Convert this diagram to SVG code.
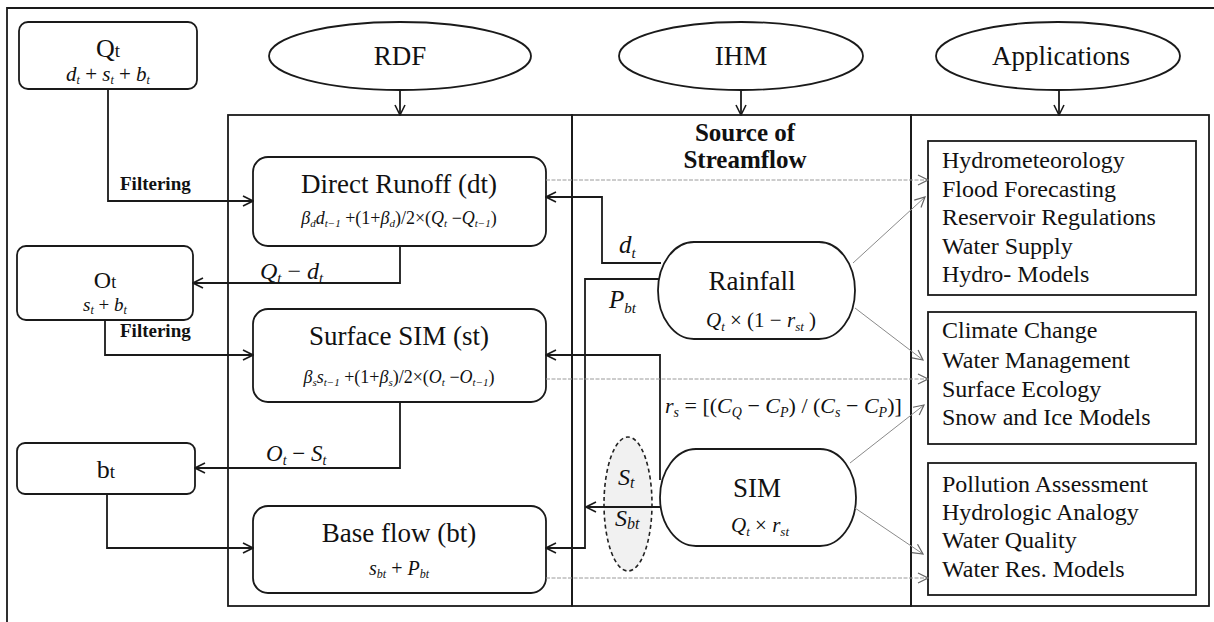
<svg xmlns="http://www.w3.org/2000/svg" width="1214" height="622" viewBox="0 0 1214 622">
<style>
.ln{stroke:#1a1a1a;stroke-width:1.8;fill:none}
.bx{stroke:#1a1a1a;stroke-width:1.8;fill:#fff}
.gl{stroke:#9a9a9a;stroke-width:1;fill:none;stroke-dasharray:4 1.5}
.dg{stroke:#8a8a8a;stroke-width:1;fill:none}
.t{font-family:"Liberation Serif","Times New Roman",serif;fill:#111}
.b{font-weight:bold}
.i{font-style:italic}
.m{text-anchor:middle}
</style>
<defs>
<marker id="ah" viewBox="0 0 12 12" refX="11" refY="6" markerWidth="12" markerHeight="12" markerUnits="userSpaceOnUse" orient="auto"><path d="M1,1 L11,6 L1,11" fill="none" stroke="#1a1a1a" stroke-width="1.6"/></marker>
<marker id="ag" viewBox="0 0 12 12" refX="11" refY="6" markerWidth="12" markerHeight="12" markerUnits="userSpaceOnUse" orient="auto"><path d="M1,1 L11,6 L1,11" fill="none" stroke="#666" stroke-width="1.2"/></marker>
</defs>
<rect width="1214" height="622" fill="#fff"/>
<path class="ln" d="M7,622 V8 H1214" stroke-width="1.5"/>

<g id="frames">
<rect class="ln" x="228" y="115" width="344" height="491"/>
<rect class="ln" x="572" y="115" width="339" height="491"/>
<rect class="ln" x="911" y="115" width="298" height="491"/>
</g>

<g id="rdf"><ellipse class="bx" cx="400" cy="56" rx="131" ry="34"/><text class="t m" x="400" y="65" font-size="27">RDF</text></g>
<g id="ihm"><ellipse class="bx" cx="741" cy="56" rx="122" ry="34"/><text class="t m" x="741" y="65" font-size="27">IHM</text></g>
<g id="applications"><ellipse class="bx" cx="1058" cy="56" rx="122" ry="34"/><text class="t m" x="1061" y="65" font-size="27">Applications</text></g>

<g id="qt"><rect class="bx" x="19" y="22" width="178" height="67" rx="9"/>
<text class="t m" x="108" y="57" font-size="26">Q<tspan font-size="19">t</tspan></text>
<text class="t m" x="108" y="81" font-size="21"><tspan class="i">d</tspan><tspan class="i" font-size="12" dy="3">t</tspan><tspan dy="-3"> + </tspan><tspan class="i">s</tspan><tspan class="i" font-size="12" dy="3">t</tspan><tspan dy="-3"> + </tspan><tspan class="i">b</tspan><tspan class="i" font-size="12" dy="3">t</tspan></text></g>

<g id="ot"><rect class="bx" x="17" y="246" width="176" height="74" rx="9"/>
<text class="t m" x="105" y="288" font-size="24">O<tspan font-size="18">t</tspan></text>
<text class="t m" x="105" y="311" font-size="19"><tspan class="i">s</tspan><tspan class="i" font-size="12" dy="3">t</tspan><tspan dy="-3"> + </tspan><tspan class="i">b</tspan><tspan class="i" font-size="12" dy="3">t</tspan></text></g>

<g id="bt"><rect class="bx" x="17" y="443" width="178" height="51" rx="8"/>
<text class="t m" x="106" y="478" font-size="26">b<tspan font-size="19">t</tspan></text></g>

<g id="direct-runoff"><rect class="bx" x="253" y="157" width="293" height="89" rx="15"/>
<text class="t m" x="399" y="193" font-size="27">Direct Runoff (dt)</text>
<text class="t m" x="399" y="224" font-size="18"><tspan class="i">β</tspan><tspan class="i" font-size="11" dy="3">d</tspan><tspan class="i" dy="-3">d</tspan><tspan class="i" font-size="11" dy="3">t−1</tspan><tspan dy="-3"> +(1+</tspan><tspan class="i">β</tspan><tspan class="i" font-size="11" dy="3">d</tspan><tspan dy="-3">)/2×(</tspan><tspan class="i">Q</tspan><tspan class="i" font-size="11" dy="3">t</tspan><tspan dy="-3"> −</tspan><tspan class="i">Q</tspan><tspan class="i" font-size="11" dy="3">t−1</tspan><tspan dy="-3">)</tspan></text></g>

<g id="surface-sim"><rect class="bx" x="253" y="309" width="293" height="93" rx="15"/>
<text class="t m" x="399" y="345" font-size="27">Surface SIM (st)</text>
<text class="t m" x="399" y="383" font-size="18"><tspan class="i">β</tspan><tspan class="i" font-size="11" dy="3">s</tspan><tspan class="i" dy="-3">s</tspan><tspan class="i" font-size="11" dy="3">t−1</tspan><tspan dy="-3"> +(1+</tspan><tspan class="i">β</tspan><tspan class="i" font-size="11" dy="3">s</tspan><tspan dy="-3">)/2×(</tspan><tspan class="i">O</tspan><tspan class="i" font-size="11" dy="3">t</tspan><tspan dy="-3"> −</tspan><tspan class="i">O</tspan><tspan class="i" font-size="11" dy="3">t−1</tspan><tspan dy="-3">)</tspan></text></g>

<g id="base-flow"><rect class="bx" x="253" y="506" width="293" height="87" rx="15"/>
<text class="t m" x="399" y="542" font-size="27">Base flow (bt)</text>
<text class="t m" x="399" y="575" font-size="20"><tspan class="i">s</tspan><tspan class="i" font-size="12" dy="3">bt</tspan><tspan dy="-3"> + </tspan><tspan class="i">P</tspan><tspan class="i" font-size="12" dy="3">bt</tspan></text></g>

<g id="source-label"><text class="t b m" x="745" y="141" font-size="25">Source of</text><text class="t b m" x="745" y="168" font-size="25">Streamflow</text></g>

<g id="rainfall"><rect class="bx" x="658" y="242" width="197" height="97" rx="36" ry="48.5"/>
<text class="t m" x="752" y="290" font-size="27">Rainfall</text>
<text class="t m" x="761" y="327" font-size="21"><tspan class="i">Q</tspan><tspan class="i" font-size="13" dy="4">t</tspan><tspan dy="-4"> × (1 − </tspan><tspan class="i">r</tspan><tspan class="i" font-size="13" dy="4">st</tspan><tspan dy="-4"> )</tspan></text></g>

<g id="sim"><rect class="bx" x="660" y="449" width="196" height="97" rx="36" ry="48.5"/>
<text class="t m" x="757" y="497" font-size="27">SIM</text>
<text class="t m" x="760" y="532" font-size="21"><tspan class="i">Q</tspan><tspan class="i" font-size="13" dy="4">t</tspan><tspan dy="-4"> × </tspan><tspan class="i">r</tspan><tspan class="i" font-size="13" dy="4">st</tspan></text></g>

<g id="partition"><ellipse cx="628" cy="504" rx="24" ry="67" fill="#f1f1f1" stroke="#222" stroke-width="1.6" stroke-dasharray="4 3"/>
<text class="t i" x="618" y="485" font-size="24" fill="#555">S<tspan font-size="16" dy="3">t</tspan></text>
<text class="t i" x="615" y="526" font-size="24" fill="#555">S<tspan font-size="16" dy="3">bt</tspan></text></g>

<g id="app1"><rect class="bx" x="928" y="141" width="268" height="154"/>
<text class="t" x="942" y="168" font-size="24">Hydrometeorology</text>
<text class="t" x="942" y="197" font-size="24">Flood Forecasting</text>
<text class="t" x="942" y="225" font-size="24">Reservoir Regulations</text>
<text class="t" x="942" y="254" font-size="24">Water Supply</text>
<text class="t" x="942" y="282" font-size="24">Hydro- Models</text></g>

<g id="app2"><rect class="bx" x="928" y="312" width="268" height="132"/>
<text class="t" x="942" y="338" font-size="24">Climate Change</text>
<text class="t" x="942" y="368" font-size="24">Water Management</text>
<text class="t" x="942" y="397" font-size="24">Surface Ecology</text>
<text class="t" x="942" y="425" font-size="24">Snow and Ice Models</text></g>

<g id="app3"><rect class="bx" x="928" y="463" width="268" height="132"/>
<text class="t" x="942" y="492" font-size="24">Pollution Assessment</text>
<text class="t" x="942" y="520" font-size="24">Hydrologic Analogy</text>
<text class="t" x="942" y="548" font-size="24">Water Quality</text>
<text class="t" x="942" y="577" font-size="24">Water Res. Models</text></g>

<g id="connectors">
<path class="ln" d="M400,90 V115" marker-end="url(#ah)"/>
<path class="ln" d="M741,90 V115" marker-end="url(#ah)"/>
<path class="ln" d="M1059,90 V115" marker-end="url(#ah)"/>
<path class="ln" d="M108,89 V201 H253" marker-end="url(#ah)"/>
<path class="ln" d="M400,246 V283 H193" marker-end="url(#ah)"/>
<path class="ln" d="M105,320 V355 H253" marker-end="url(#ah)"/>
<path class="ln" d="M400,402 V468 H195" marker-end="url(#ah)"/>
<path class="ln" d="M107,494 V548 H253" marker-end="url(#ah)"/>
<path class="ln" d="M661,263 H602 V197 H546" marker-end="url(#ah)"/>
<path class="ln" d="M659,279 H585 V548 H546" marker-end="url(#ah)"/>
<path class="ln" d="M660,480 V355 H546" marker-end="url(#ah)"/>
<path class="ln" d="M661,507 H586" marker-end="url(#ah)"/>
<path class="gl" d="M546,180 H928" marker-end="url(#ag)"/>
<path class="gl" d="M546,379 H928" marker-end="url(#ag)"/>
<path class="gl" d="M546,578 H928" marker-end="url(#ag)"/>
<path class="dg" d="M853,263 L925,197" marker-end="url(#ag)"/>
<path class="dg" d="M855,308 L923,360" marker-end="url(#ag)"/>
<path class="dg" d="M850,463 L924,405" marker-end="url(#ag)"/>
<path class="dg" d="M855,508 L923,554" marker-end="url(#ag)"/>
</g>

<g id="connector-labels">
<text class="t b" x="120" y="190" font-size="19">Filtering</text>
<text class="t b" x="120" y="337" font-size="19">Filtering</text>
<text class="t" x="260" y="279" font-size="24"><tspan class="i">Q</tspan><tspan class="i" font-size="15" dy="4">t</tspan><tspan dy="-4">  − </tspan><tspan class="i">d</tspan><tspan class="i" font-size="15" dy="4">t</tspan></text>
<text class="t" x="266" y="461" font-size="23"><tspan class="i">O</tspan><tspan class="i" font-size="14" dy="4">t</tspan><tspan dy="-4"> − </tspan><tspan class="i">S</tspan><tspan class="i" font-size="14" dy="4">t</tspan></text>
<text class="t i" x="619" y="253" font-size="25">d<tspan font-size="15" dy="5">t</tspan></text>
<text class="t i" x="609" y="308" font-size="25">P<tspan font-size="15" dy="5">bt</tspan></text>
<text class="t" x="665" y="413" font-size="22"><tspan class="i">r</tspan><tspan class="i" font-size="14" dy="4">s</tspan><tspan dy="-4"> = [(</tspan><tspan class="i">C</tspan><tspan class="i" font-size="14" dy="4">Q</tspan><tspan dy="-4"> − </tspan><tspan class="i">C</tspan><tspan class="i" font-size="14" dy="4">P</tspan><tspan dy="-4">) / (</tspan><tspan class="i">C</tspan><tspan class="i" font-size="14" dy="4">s</tspan><tspan dy="-4"> − </tspan><tspan class="i">C</tspan><tspan class="i" font-size="14" dy="4">P</tspan><tspan dy="-4">)]</tspan></text>
</g>
</svg>
